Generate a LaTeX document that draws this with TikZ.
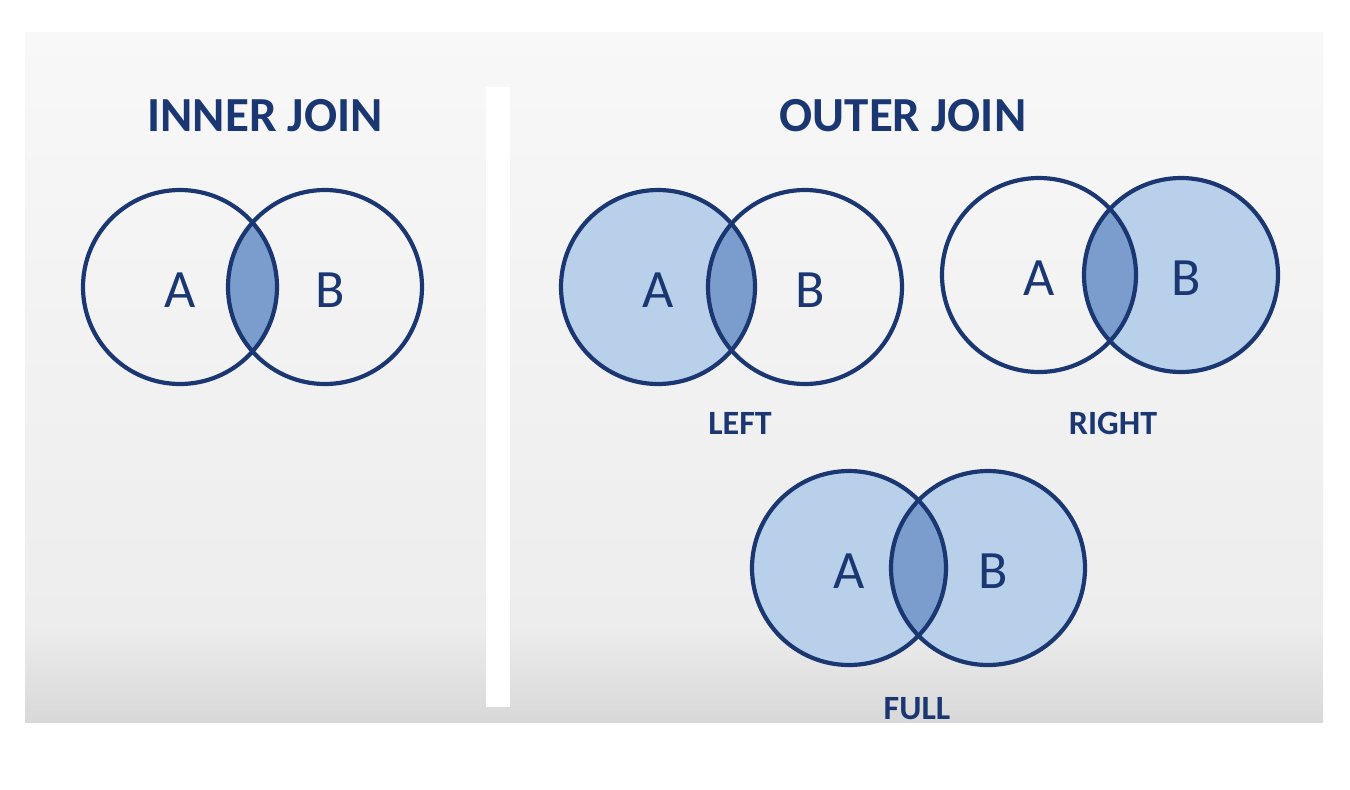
\documentclass[tikz,border=0pt]{standalone}
\usepackage{fontspec}
\setmainfont{Carlito}
\usetikzlibrary{positioning}

\definecolor{navy}{HTML}{1B3772}
\definecolor{setfill}{HTML}{B9D0EA}
\definecolor{lensfill}{HTML}{7B9DCD}
\definecolor{bgtop}{HTML}{F8F8F8}
\definecolor{bgmid}{HTML}{EDEDED}
\definecolor{bgbot}{HTML}{D8D8D8}
\pgfdeclareverticalshading{panelshade}{100bp}{color(0bp)=(bgbot); color(25bp)=(bgbot); color(32bp)=(bgmid); color(55bp)=(bgmid!50!bgtop); color(75bp)=(bgtop); color(100bp)=(bgtop)}

\begin{document}
\begin{tikzpicture}[
    x=0.5pt, y=-0.5pt,
    % Text styles
    title/.style={font=\bfseries\fontsize{24.5}{28}\selectfont, text=navy},
    letter/.style={font=\fontsize{27}{30}\selectfont, text=navy},
    caption/.style={font=\bfseries\fontsize{17}{20}\selectfont, text=navy},
    % Set styles
    ring/.style={draw=navy, line width=2.1pt},
]
    \useasboundingbox (0,0) rectangle (1350,789);

    % Background panel and divider
    \shade[shading=panelshade] (25,32) rectangle (1323,722);
    \fill[white] (486,87) rectangle (510,707);

    % Titles
    \node[title] (innertitle) at (265,116) {INNER JOIN};
    \node[title] (outertitle) at (903,116) {OUTER JOIN};

    % Venn diagrams
    \foreach \name/\ax/\bx/\cy/\fa/\fb in {
        inner/180/325/287/none/none,
        left/658/805/287/setfill/none,
        right/1039/1181/275/none/setfill,
        full/849/988/568/setfill/setfill} {
        \path[fill=\fa] (\ax,\cy) circle[radius=97];
        \path[fill=\fb] (\bx,\cy) circle[radius=97];
        \begin{scope}
            \clip (\ax,\cy) circle[radius=97];
            \fill[lensfill] (\bx,\cy) circle[radius=97];
        \end{scope}
        \draw[ring] (\ax,\cy) circle[radius=97];
        \draw[ring] (\bx,\cy) circle[radius=97];
        \node[letter] (\name A) at (\ax,\cy+3) {A};
        \node[letter] (\name B) at (\bx+5,\cy+3) {B};
    }

    % Captions
    \node[caption] (leftcap) at (740,423) {LEFT};
    \node[caption] (rightcap) at (1113,423) {RIGHT};
    \node[caption] (fullcap) at (917,709) {FULL};

\end{tikzpicture}
\end{document}
